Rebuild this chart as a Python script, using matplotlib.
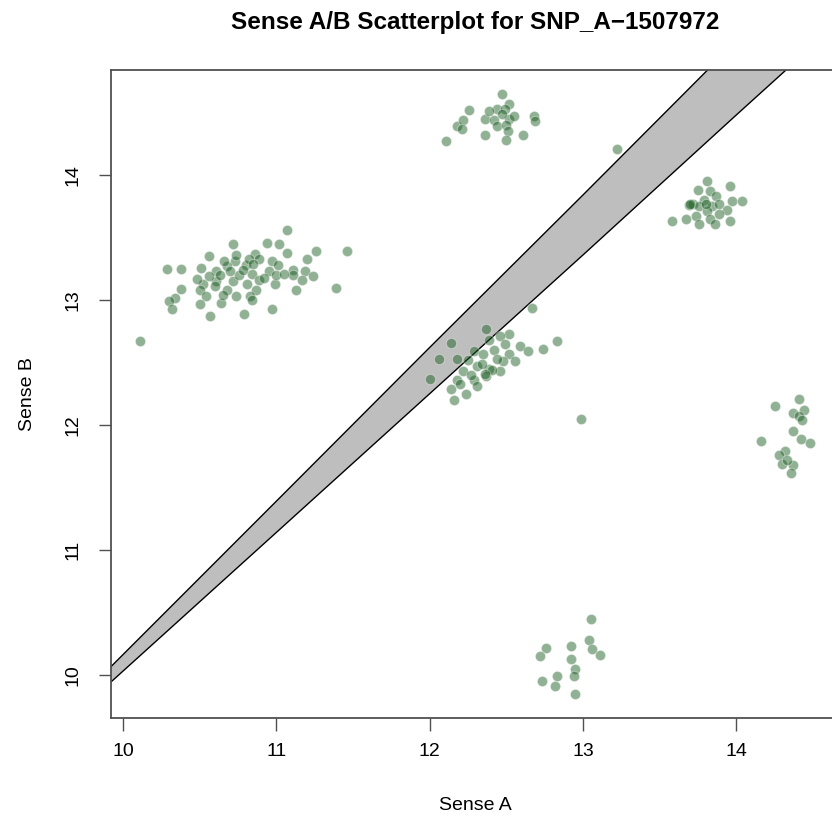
import numpy as np
import matplotlib
matplotlib.use("Agg")
import matplotlib.pyplot as plt

plt.rcParams["font.family"] = ["Liberation Sans", "DejaVu Sans"]

# values (Sense A, Sense B), one pair of lists per cluster
left_a = [11.07, 10.94, 11.02, 10.72, 11.07, 11.26, 11.46, 10.56, 10.73, 10.86,
          11.20, 10.29, 10.38, 10.51, 10.61, 10.68, 10.80, 10.84, 10.97, 11.01,
          10.95, 11.11, 11.19, 11.24, 11.11, 11.17, 10.72, 10.61, 10.52, 10.81,
          10.99, 11.39, 11.13, 10.38, 10.50, 10.68, 10.87, 10.54, 10.74, 10.83,
          10.34, 10.30, 10.64, 10.50, 10.32, 10.97, 10.79, 10.57, 10.63, 10.76,
          10.89, 10.56, 10.48, 10.70, 10.82, 10.74, 10.89, 11.00, 10.84, 10.65,
          10.11, 10.78, 10.92, 10.60, 10.85, 11.05, 10.66]
left_b = [13.56, 13.46, 13.45, 13.45, 13.38, 13.39, 13.39, 13.35, 13.31, 13.37,
          13.33, 13.25, 13.25, 13.26, 13.23, 13.27, 13.28, 13.21, 13.31, 13.28,
          13.23, 13.24, 13.23, 13.19, 13.20, 13.16, 13.15, 13.15, 13.13, 13.13,
          13.13, 13.10, 13.08, 13.09, 13.08, 13.08, 13.08, 13.03, 13.03, 13.03,
          13.02, 12.99, 12.98, 12.97, 12.93, 12.93, 12.89, 12.87, 13.20, 13.20,
          13.16, 13.19, 13.17, 13.23, 13.33, 13.36, 13.33, 13.20, 13.00, 13.04,
          12.67, 13.24, 13.18, 13.11, 13.29, 13.21, 13.31]

top_a = [12.47, 12.52, 12.44, 12.49, 12.26, 12.18, 12.22, 12.21, 12.36, 12.42,
         12.44, 12.52, 12.55, 12.50, 12.51, 12.50, 12.36, 12.61, 12.68, 12.69,
         12.11, 12.39, 12.47, 13.22]
top_b = [14.65, 14.57, 14.53, 14.53, 14.52, 14.39, 14.44, 14.37, 14.45, 14.44,
         14.39, 14.45, 14.47, 14.40, 14.35, 14.28, 14.32, 14.32, 14.47, 14.43,
         14.27, 14.51, 14.49, 14.21]

upper_right_a = [13.81, 13.96, 13.75, 13.83, 13.87, 13.79, 13.72, 13.69, 13.76,
                 13.84, 13.89, 13.97, 14.04, 13.94, 13.81, 13.89, 13.67, 13.74,
                 13.83, 13.58, 13.76, 13.86, 13.96, 13.70, 13.80]
upper_right_b = [13.95, 13.91, 13.88, 13.87, 13.83, 13.80, 13.77, 13.76, 13.75,
                 13.75, 13.77, 13.79, 13.79, 13.72, 13.71, 13.69, 13.65, 13.67,
                 13.65, 13.63, 13.61, 13.61, 13.63, 13.77, 13.77]

middle_a = [12.37, 12.14, 12.06, 12.18, 12.00,
            12.67, 12.52, 12.46, 12.39, 12.49, 12.59, 12.64, 12.74, 12.83, 12.29,
            12.35, 12.42, 12.52, 12.56, 12.48, 12.39, 12.31, 12.22, 12.25, 12.18,
            12.29, 12.37, 12.46, 12.14, 12.24, 12.16, 12.31, 12.44, 12.34, 12.20,
            12.99, 12.41, 12.36, 12.27]
middle_b = [12.77, 12.66, 12.53, 12.53, 12.37,
            12.94, 12.73, 12.71, 12.68, 12.65, 12.63, 12.59, 12.61, 12.67, 12.59,
            12.57, 12.60, 12.57, 12.51, 12.51, 12.45, 12.47, 12.43, 12.52, 12.36,
            12.36, 12.39, 12.43, 12.29, 12.25, 12.20, 12.31, 12.53, 12.49, 12.33,
            12.05, 12.44, 12.41, 12.40]

lower_right_a = [14.41, 14.25, 14.44, 14.37, 14.41, 14.43, 14.37, 14.42, 14.48,
                 14.16, 14.32, 14.28, 14.30, 14.37, 14.36, 14.33]
lower_right_b = [12.21, 12.15, 12.12, 12.10, 12.07, 12.04, 11.95, 11.89, 11.86,
                 11.87, 11.79, 11.76, 11.69, 11.68, 11.62, 11.72]

bottom_a = [13.05, 12.76, 12.72, 12.92, 13.04, 13.06, 13.11, 12.92, 12.95,
            12.94, 12.83, 12.73, 12.82, 12.95]
bottom_b = [10.45, 10.22, 10.15, 10.23, 10.28, 10.21, 10.16, 10.13, 10.05,
            9.99, 9.99, 9.95, 9.91, 9.85]

# grey band between the two boundary lines
band_a = [9.9, 11.0, 12.0, 13.0, 14.0, 15.0]
band_upper = [10.04, 11.39, 12.62, 13.84, 15.07, 16.30]
band_lower = [9.92, 11.14, 12.25, 13.36, 14.48, 15.59]

sense_a = left_a + top_a + upper_right_a + middle_a + lower_right_a + bottom_a
sense_b = left_b + top_b + upper_right_b + middle_b + lower_right_b + bottom_b

fig = plt.figure(figsize=(8.32, 8.17), dpi=100)
ax = fig.add_axes([111 / 832, 1 - 718 / 817, 728 / 832, 648 / 817])

ax.fill_between(band_a, band_lower, band_upper, facecolor="#bebebe",
                edgecolor="none", zorder=1)
ax.plot(band_a, band_upper, color="black", lw=1.0, zorder=2)
ax.plot(band_a, band_lower, color="black", lw=1.0, zorder=2)

ax.scatter(sense_a, sense_b, s=54, facecolor=(0.1, 0.36, 0.13, 0.48),
           edgecolor=(1, 1, 1, 0.35), linewidth=0.8, zorder=3)

ax.set_xlim(9.922, 14.67)
ax.set_ylim(9.656, 14.84)
ax.set_xticks([10, 11, 12, 13, 14])
ax.set_yticks([10, 11, 12, 13, 14])
for sp in ax.spines.values():
    sp.set_color("#505050")
    sp.set_linewidth(1.3)
ax.tick_params(axis="both", direction="out", length=9, width=1.0,
               color="#505050", labelsize=14)
ax.tick_params(axis="x", pad=9)
ax.tick_params(axis="y", pad=12)
plt.setp(ax.get_yticklabels(), rotation=90, va="center")

fig.text(475 / 832, 1 - 22 / 817, "Sense A/B Scatterplot for SNP_A\u22121507972",
         ha="center", va="center", fontsize=17.5, fontweight="bold")
fig.text(475 / 832, 1 - 805 / 817, "Sense A", ha="center", va="center",
         fontsize=14)
fig.text(27 / 832, 1 - 394 / 817, "Sense B", ha="center", va="center",
         fontsize=14, rotation=90)

fig.savefig("out.png", dpi=100)
